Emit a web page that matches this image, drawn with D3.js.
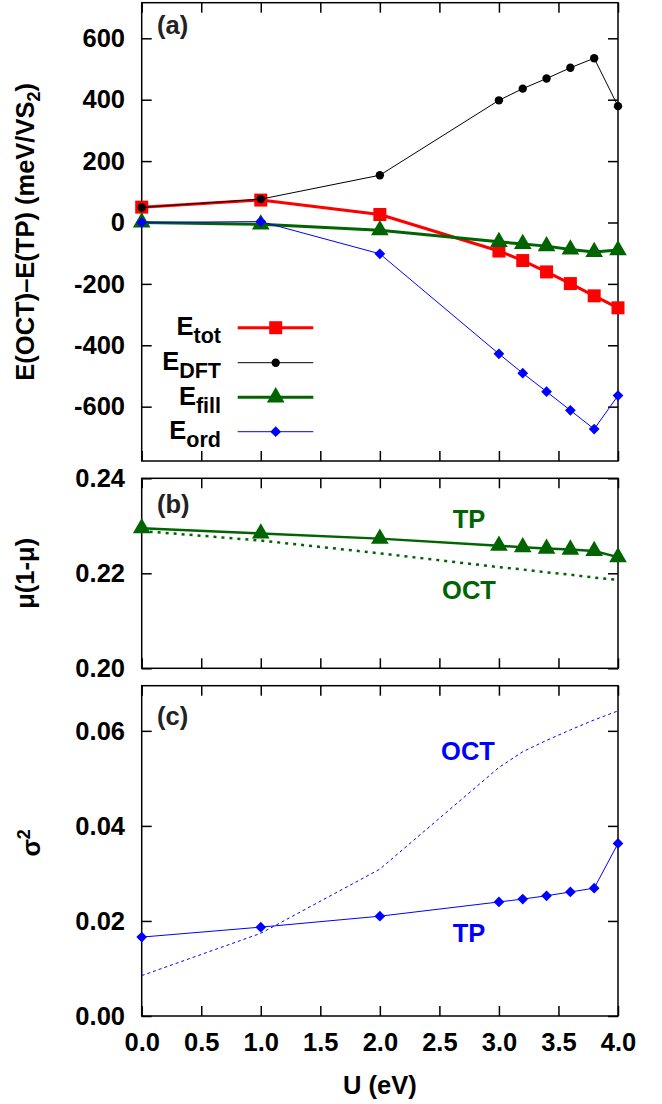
<!DOCTYPE html>
<html>
<head>
<meta charset="utf-8">
<script src="https://cdn.jsdelivr.net/npm/d3@7"></script>
<style>
  html, body { margin: 0; padding: 0; background: #fff; }
  svg { display: block; }
  text { font-family: "Liberation Sans", Arial, Helvetica, sans-serif; font-weight: bold; }
</style>
</head>
<body>
<svg id="chart" width="662" height="1104"></svg>
<script>
// Hubbard U values (eV)
const U = [0, 1, 2, 3, 3.2, 3.4, 3.6, 3.8, 4.0];

// (a) energy differences E(OCT) - E(TP), meV per VS2
const eTot  = [50, 73, 26, -93, -124, -161, -199, -239, -278];
const eDFT  = [49, 76, 154, 398, 436, 469, 504, 535, 379];
const eFill = [0, -6, -25, -63, -70, -77, -88, -96, -90];
const eOrd  = [0, 3, -102, -428, -491, -551, -612, -673, -564];

// (b) mu(1-mu)
const muTP  = [0.2295, 0.2284, 0.2273, 0.2258, 0.2255, 0.2252, 0.2250, 0.2247, 0.2234];
const muOCT = [0.2289, 0.2269, 0.2242, 0.2213, 0.2208, 0.2202, 0.2197, 0.2191, 0.2186];

// (c) sigma^2
const sigTP  = [0.0166, 0.0187, 0.0210, 0.0240, 0.0246, 0.0253, 0.0261, 0.0269, 0.0363];
const sigOCT = [0.0085, 0.0174, 0.0309, 0.0523, 0.0556, 0.0580, 0.0602, 0.0623, 0.0642];

// tick values
const xTicks = [0, 0.5, 1, 1.5, 2, 2.5, 3, 3.5, 4];
const aTicks = [-600, -400, -200, 0, 200, 400, 600];
const bTicks = [0.20, 0.22, 0.24];
const cTicks = [0.00, 0.02, 0.04, 0.06];

const RED = "#ff0000", GREEN = "#006400", BLUE = "#0000ff", BLACK = "#000000";
const FS = 25.5;

const svg = d3.select("#chart");
const L = 141.7, R = 618;
const x = d3.scaleLinear().domain([0, 4]).range([L, R]);

const panels = {
  a: { top: 2.7,   bottom: 461,  domain: [-777, 716] },
  b: { top: 478.3, bottom: 668.3, domain: [0.20, 0.24] },
  c: { top: 685.7, bottom: 1016, domain: [0, 0.0695] }
};
for (const k in panels) {
  const p = panels[k];
  p.y = d3.scaleLinear().domain(p.domain).range([p.bottom, p.top]);
}

// boxed frame with inward ticks on all four sides
function frame(p, yTicks, yFmt, showX) {
  const g = svg.append("g");
  const left = d3.axisLeft(p.y).tickValues(yTicks).tickSizeInner(-10).tickSizeOuter(0)
    .tickPadding(16.7).tickFormat(yFmt);
  const right = d3.axisRight(p.y).tickValues(yTicks).tickSizeInner(-10).tickSizeOuter(0).tickFormat("");
  const top = d3.axisTop(x).tickValues(xTicks).tickSizeInner(-10).tickSizeOuter(0).tickFormat("");
  const bottom = d3.axisBottom(x).tickValues(xTicks).tickSizeInner(-10).tickSizeOuter(0)
    .tickPadding(17).tickFormat(showX ? d3.format(".1f") : "");
  g.append("g").attr("transform", `translate(${L},0)`).call(left);
  g.append("g").attr("transform", `translate(${R},0)`).call(right);
  g.append("g").attr("transform", `translate(0,${p.top})`).call(top);
  g.append("g").attr("transform", `translate(0,${p.bottom})`).call(bottom);
  g.selectAll(".domain").remove();
  g.selectAll(".tick line").attr("stroke", "#000").attr("stroke-width", 1.5);
  g.selectAll(".tick text").attr("fill", "#000").style("font-size", FS + "px")
    .style("font-family", null).style("font-weight", "bold");
  g.selectAll("g").attr("font-family", null);
  g.append("rect").attr("x", L).attr("y", p.top).attr("width", R - L).attr("height", p.bottom - p.top)
    .attr("fill", "none").attr("stroke", "#000").attr("stroke-width", 1.5);
  return g;
}

frame(panels.a, aTicks, d => String(d), false);
frame(panels.b, bTicks, d3.format(".2f"), false);
frame(panels.c, cTicks, d3.format(".2f"), true);

function series(p, vals, color, width, dash) {
  const line = d3.line().x((d, i) => x(U[i])).y(d => p.y(d));
  const path = svg.append("path").datum(vals).attr("d", line)
    .attr("fill", "none").attr("stroke", color).attr("stroke-width", width)
    .attr("stroke-linejoin", "round");
  if (dash) path.attr("stroke-dasharray", dash);
}
function markers(p, vals, color, sym, size, rot) {
  const s = d3.symbol().type(sym).size(size);
  svg.append("g").selectAll("path").data(vals).join("path")
    .attr("d", s)
    .attr("transform", (d, i) => `translate(${x(U[i])},${p.y(d)})` + (rot ? ` rotate(${rot})` : ""))
    .attr("fill", color);
}

// panel (a)
series(panels.a, eTot, RED, 3);
markers(panels.a, eTot, RED, d3.symbolSquare, 169);
series(panels.a, eDFT, BLACK, 1);
markers(panels.a, eDFT, BLACK, d3.symbolCircle, 55);
series(panels.a, eFill, GREEN, 3);
markers(panels.a, eFill, GREEN, d3.symbolTriangle, 135);
series(panels.a, eOrd, BLUE, 1);
markers(panels.a, eOrd, BLUE, d3.symbolSquare, 58, 45);

// legend of panel (a)
const legend = [
  { main: "E", sub: "tot",  color: RED,   w: 3, sym: d3.symbolSquare,   size: 169 },
  { main: "E", sub: "DFT",  color: BLACK, w: 1, sym: d3.symbolCircle,   size: 55 },
  { main: "E", sub: "fill", color: GREEN, w: 3, sym: d3.symbolTriangle, size: 135 },
  { main: "E", sub: "ord",  color: BLUE,  w: 1, sym: d3.symbolSquare,   size: 58, rot: 45 }
];
const legY = [327.7, 362.7, 397.3, 431.7];
legend.forEach((e, i) => {
  const yy = legY[i];
  svg.append("line").attr("x1", 237.7).attr("x2", 313.3).attr("y1", yy).attr("y2", yy)
    .attr("stroke", e.color).attr("stroke-width", e.w);
  svg.append("path").attr("d", d3.symbol().type(e.sym).size(e.size)())
    .attr("transform", `translate(275.7,${yy})` + (e.rot ? ` rotate(${e.rot})` : ""))
    .attr("fill", e.color);
  const t = svg.append("text").attr("x", 221).attr("y", yy + 7.3).attr("text-anchor", "end")
    .style("font-size", FS + "px");
  t.append("tspan").text(e.main);
  t.append("tspan").attr("dy", 8).style("font-size", "21.5px").text(e.sub);
});

// panel (b)
series(panels.b, muOCT, GREEN, 2.5, "3,5");
series(panels.b, muTP, GREEN, 2.5);
markers(panels.b, muTP, GREEN, d3.symbolTriangle, 135);

// panel (c)
series(panels.c, sigOCT, BLUE, 1, "3,3");
series(panels.c, sigTP, BLUE, 1);
markers(panels.c, sigTP, BLUE, d3.symbolSquare, 58, 45);

// panel letters and curve labels
function label(txt, xx, yy, color, anchor) {
  svg.append("text").attr("x", xx).attr("y", yy).attr("fill", color)
    .attr("text-anchor", anchor || "start").style("font-size", FS + "px").text(txt);
}
label("(a)", 157, 34, "#222");
label("(b)", 157, 513, "#222");
label("(c)", 157, 725, "#222");
label("TP", 469, 528.3, GREEN, "middle");
label("OCT", 469, 598.5, GREEN, "middle");
label("OCT", 468, 760, BLUE, "middle");
label("TP", 469, 941.7, BLUE, "middle");

// axis titles
svg.append("text").attr("x", (L + R) / 2).attr("y", 1094).attr("text-anchor", "middle")
  .style("font-size", FS + "px").text("U (eV)");

const ya = svg.append("text").attr("text-anchor", "middle")
  .attr("transform", `translate(34,${(panels.a.top + panels.a.bottom) / 2}) rotate(-90)`)
  .style("font-size", FS + "px");
ya.append("tspan").text("E(OCT)\u2013E(TP) (meV/VS");
ya.append("tspan").attr("dy", 6).style("font-size", "18px").text("2");
ya.append("tspan").attr("dy", -6).text(")");

svg.append("text").attr("text-anchor", "middle")
  .attr("transform", `translate(34,${(panels.b.top + panels.b.bottom) / 2}) rotate(-90)`)
  .style("font-size", FS + "px").text("\u03bc(1-\u03bc)");

const yc = svg.append("text").attr("text-anchor", "middle")
  .attr("transform", `translate(40,${(panels.c.top + panels.c.bottom) / 2 - 8}) rotate(-90)`)
  .style("font-size", FS + "px");
yc.append("tspan").text("\u03c3");
yc.append("tspan").attr("dy", -10).style("font-size", "18px").text("2");
</script>
</body>
</html>
